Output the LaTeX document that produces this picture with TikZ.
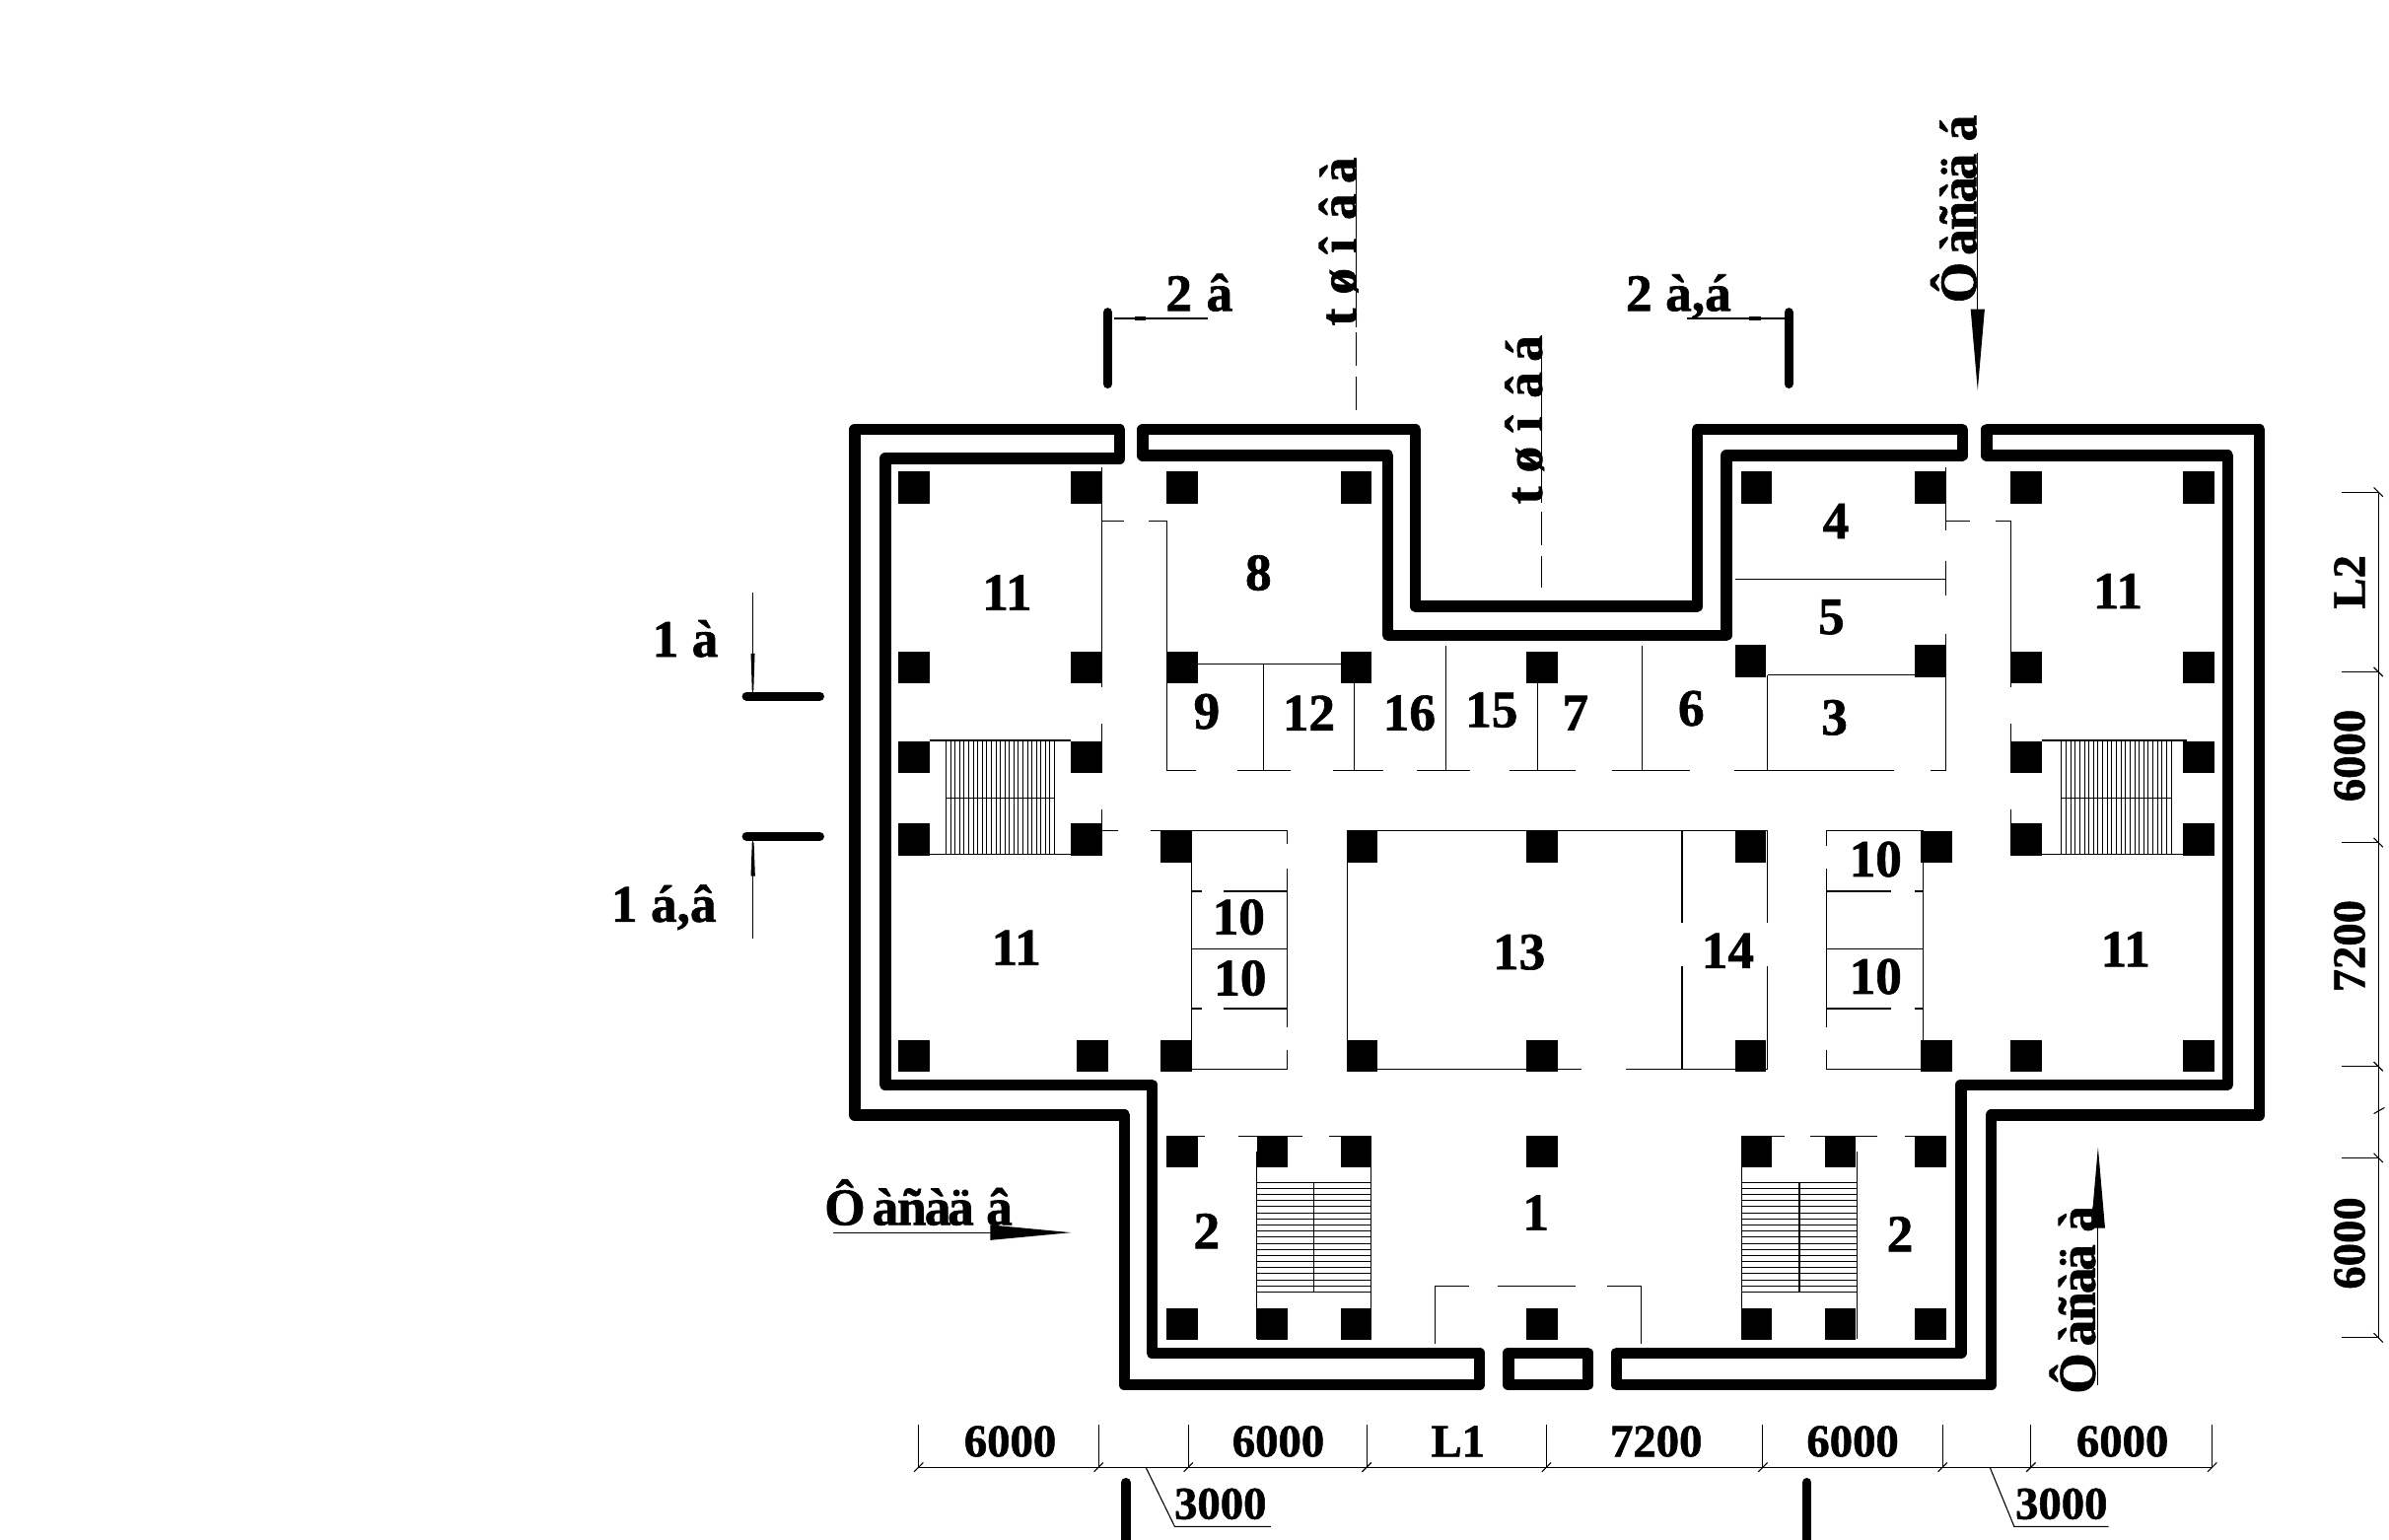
\documentclass[tikz,border=0pt]{standalone}
\usepackage{fontspec}
\setmainfont{Liberation Serif}[BoldFont=Liberation Serif Bold,BoldFeatures={FakeBold=1.2}]
\newcommand\cellbox[2]{\makebox[#1pt][l]{#2}}
\tikzset{
  x=0.05cm,y=-0.05cm,
  wall/.style={line width=10.5pt,line join=round,line cap=round},
  bar/.style={line width=8.5pt,line cap=round},
  thin/.style={line width=1pt},
  col/.style={fill=black},
  lab/.style={inner sep=0pt,font=\fontsize{49}{49}\selectfont\bfseries},
  dimlab/.style={inner sep=0pt,font=\fontsize{43}{43}\selectfont\bfseries},
}
\begin{document}
\begin{tikzpicture}
\useasboundingbox (0,-1) rectangle (1568,1009.2);
% walls
\draw[wall] (561,281)--(735,281)--(735,300)--(581,300)--(581,711)--(756,711)--(756,887)--(971,887)--(971,908)--(738,908)--(738,731)--(561,731)--cycle;
\draw[wall] (750,281)--(929,281)--(929,397)--(1114,397)--(1114,281)--(1288,281)--(1288,298)--(1133,298)--(1133,416)--(911,416)--(911,298)--(750,298)--cycle;
\draw[wall] (1304,281)--(1483,281)--(1483,731)--(1307,731)--(1307,908)--(1061,908)--(1061,887)--(1287,887)--(1287,711)--(1462,711)--(1462,298)--(1304,298)--cycle;
\draw[wall] (990,887) rectangle (1042,908);
% columns
\foreach \x/\y in {600/319,713/319,776/319,890/319,1153/319,1267/319,1330/319,1443/319,
  600/437,713/437,776/437,890/437,1012/437,1149/433,1267/433,1330/437,1443/437,
  600/496,713/496,1330/496,1443/496,600/550,713/550,1330/550,1443/550,
  772/555,894/555,1012/555,1149/555,1271/555,
  600/692,717/692,772/692,894/692,1012/692,1149/692,1271/692,1330/692,1443/692,
  776/755,835/755,890/755,1012/755,1153/755,1208/755,1267/755,
  776/868,835/868,890/868,1012/868,1153/868,1208/868,1267/868}
  \fill[col] (\x-10.2,\y-10.5) rectangle ++(20.4,21);
% thin partitions: x1/y1/x2/y2
\foreach \a/\b/\c/\d in {
 723/306/723/450, 723/474/723/505, 723/530/723/560,
 723/341/738/341, 754/341/766/341,
 766/341/766/505, 776/435/890/435, 829/435/829/505, 889/437/889/505, 949/423/949/505,
 766/505/785/505, 812/505/847/505, 875/505/908/505, 930/505/965/505, 991/505/1034/505,
 1058/505/1109/505, 1138/505/1243/505, 1267/505/1277/505,
 1009/446/1009/505, 1078/423/1078/505, 1160/442/1160/505, 1160/442/1277/442,
 1277/306/1277/347, 1277/367/1277/390, 1277/415/1277/505,
 1277/341/1293/341, 1310/341/1320/341,
 1320/341/1320/450, 1320/474/1320/505, 1320/530/1320/560,
 1139/379/1277/379,
 723/544/734/544, 755/544/845/544,
 782/544/782/701, 845/544/845/553, 845/569/845/673, 845/688/845/701,
 782/584/789/584, 803/584/845/584, 782/622/845/622, 782/661/789/661, 803/661/845/661, 782/701/845/701,
 884/544/884/701, 884/544/1160/544, 884/701/1038/701, 1067/701/1160/701,
 1104/544/1104/605, 1104/633/1104/701, 1160/544/1160/605, 1160/633/1160/701,
 1199/544/1199/554, 1199/569/1199/673, 1199/688/1199/701, 1262/544/1262/701,
 1199/544/1262/544, 1199/584/1241/584, 1257/584/1262/584, 1199/622/1262/622,
 1199/661/1241/661, 1257/661/1262/661, 1199/701/1262/701,
 % lower lobby
 766/745/791/745, 813/745/855/745, 872/745/899/745,
 825/755/825/878, 900/755/900/878,
 1143/745/1171/745, 1188/745/1232/745, 1250/745/1277/745,
 1143/755/1143/878, 1219/755/1219/878,
 942/843/942/881, 942/843/964/843, 983/843/1034/843, 1055/843/1077/843, 1077/843/1077/881,
 % upper stairs frames
 610/485/703/485, 1340/485/1435/485, 610/560/703/560, 1340/560/1435/560,
 621/523/692/523, 1353/523/1425/523}
  \draw[thin] (\a,\b)--(\c,\d);
% stair hatching
\foreach \i in {0,...,24} {
  \draw[thin,line width=0.8pt] (621+\i*2.96,485)--(621+\i*2.96,560);
  \draw[thin,line width=0.8pt] (1353+\i*3,485)--(1353+\i*3,560);
}
\foreach \i in {0,...,18} {
  \draw[thin,line width=0.8pt] (825,775+\i*4)--(900,775+\i*4);
  \draw[thin,line width=0.8pt] (1143,775+\i*4)--(1219,775+\i*4);
}
\draw[thin] (862,775)--(862,847);
\draw[thin] (1181,775)--(1181,847);
% room labels
\foreach \n/\x/\y/\t in {r1/661/388/11,r2/826/375/8,r3/1205/341/4,r4/1202/404/5,r5/1204/470/3,r6/1390/387/11,
  r7/792/466/9,r8/859/467/12,r9/925/467/16,r10/979/465/15,r11/1034/467/7,r12/1110/464/6,
  r13/813/601/10,r14/814/641/10,r15/667/621/11,r16/997/624/13,r17/1134/623/14,
  r18/1231/563/10,r19/1231/640/10,r20/1395/622/11,r21/1008/795/1,r22/792/807/2,r23/1247/809/2}
  \node[lab] (\n) at (\x,\y) {\t};
% section marks
\draw[bar] (727,204)--(727,251);
\draw[bar] (1174,204)--(1174,251);
\draw[bar] (490,456)--(538,456);
\draw[bar] (490,548)--(538,548);
\draw[bar] (739,972)--(739,1012);
\draw[bar] (1186,972)--(1186,1012);
\draw[thin] (731,208)--(793,208);
\fill (745,206.8) rectangle (752,209.2);
\draw[thin] (1107,208)--(1171,208);
\fill (1148,206.8) rectangle (1156,209.2);
\draw[thin] (494,388)--(494,453);
\fill (492.8,428)--(495.4,428)--(494.6,452)--(493.6,452)--cycle;
\draw[thin] (494,551)--(494,615);
\fill (493.6,552)--(494.8,552)--(495.6,574)--(492.8,574)--cycle;
\node[lab,anchor=base west] (s2a) at (765,203) {\cellbox{38}{2}â};
\node[lab,anchor=base west] (s2b) at (1067,203) {\cellbox{37}{2}à,á};
\node[lab,anchor=base west] (s1a) at (428,430) {\cellbox{37}{1}à};
\node[lab,anchor=base west] (s1b) at (401,604) {\cellbox{37}{1}á,â};
% vertical axis labels
\foreach \a/\b in {103/214,217/239,246/268} \draw[thin] (890,\a)--(890,\b);
\foreach \a/\b in {219/329,335/357,364/385} \draw[thin] (1012,\a)--(1012,\b);
\node[lab,rotate=90,anchor=base west] (t1) at (890,213) {\cellbox{29.4}{t}\cellbox{38.6}{ø}\cellbox{31}{î}\cellbox{34}{â}à};
\node[lab,rotate=90,anchor=base west] (t2) at (1012,330) {\cellbox{29.4}{t}\cellbox{38.6}{ø}\cellbox{31}{î}\cellbox{34}{â}á};
% facade arrows
\draw[thin] (1298,99)--(1298,203);
\fill (1293.4,202)--(1302.6,202)--(1298,255)--cycle;
\node[lab,rotate=90,anchor=base west] (f1) at (1297,198) {\cellbox{44.6}{Ô}\cellbox{23.4}{à}\cellbox{25.5}{ñ}\cellbox{21.5}{à}\cellbox{36}{ä}á};
\draw[thin] (547,808)--(651,808);
\fill (650,803)--(650,813)--(703,808)--cycle;
\node[lab,anchor=base west] (f2) at (541,803) {\cellbox{44.6}{Ô}\cellbox{23.4}{à}\cellbox{25.5}{ñ}\cellbox{21.5}{à}\cellbox{36}{ä}â};
\draw[thin] (1377,908)--(1377,804);
\fill (1372.4,805)--(1381.6,805)--(1377,752)--cycle;
\node[lab,rotate=90,anchor=base west] (f3) at (1375,914) {\cellbox{44.6}{Ô}\cellbox{23.4}{à}\cellbox{25.5}{ñ}\cellbox{21.5}{à}\cellbox{36}{ä}à};
% bottom dimensions
\draw[thin] (603,962)--(1452,962);
\foreach \x in {603,721,780,897,1015,1157,1275,1333,1452} {
  \draw[thin] (\x,934)--(\x,962);
  \draw[thin] (\x-3,965)--(\x+3,959);
}
\foreach \n/\x/\t in {b1/663/6000,b2/839/6000,b3/957/L1,b4/1087/7200,b5/1216/6000,b6/1393/6000}
  \node[dimlab,anchor=base] (\n) at (\x,955) {\t};
\draw[thin] (752,962)--(771,1001)--(834,1001);
\draw[thin] (1306,962)--(1322,1001)--(1384,1001);
\node[dimlab,anchor=base] (b7) at (801,996) {3000};
\node[dimlab,anchor=base] (b8) at (1353,996) {3000};
% right dimensions
\draw[thin] (1561,322)--(1561,877);
\foreach \y in {322,440,552,699,759,877} {
  \draw[thin] (1537,\y)--(1561,\y);
  \draw[thin] (1558,\y-3)--(1564,\y+3);
}
\draw[thin] (1558,730)--(1565,726);
\foreach \n/\y/\t in {c1/381/L2,c2/495/6000,c3/620/7200,c4/815/6000}
  \node[dimlab,rotate=90,anchor=base] (\n) at (1552,\y) {\t};
\end{tikzpicture}
\end{document}
